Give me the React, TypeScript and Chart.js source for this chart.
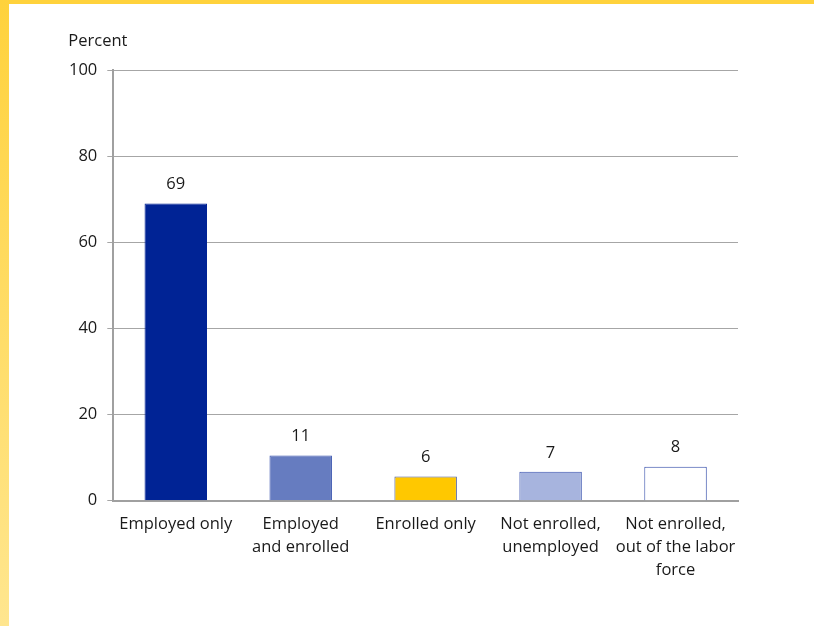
import React, { useEffect, useRef } from "react";
import { Chart, registerables } from "chart.js";

Chart.register(...registerables);

const categories: string[][] = [
  ["Employed only"],
  ["Employed", "and enrolled"],
  ["Enrolled only"],
  ["Not enrolled,", "unemployed"],
  ["Not enrolled,", "out of the labor", "force"],
];
const values: number[] = [69, 10.5, 5.6, 6.7, 7.9];
const valueLabels: string[] = ["69", "11", "6", "7", "8"];
const fillColors: string[] = ["#002395", "#667cc0", "#ffc800", "#a7b4de", "#ffffff"];
const borderColors: string[] = ["#002395", "#3a53ae", "#4a5a9a", "#3a53ae", "#2e48a8"];
const yTicks: number[] = [0, 20, 40, 60, 80, 100];
const yTitle = "Percent";

const FONT = "'Open Sans', 'DejaVu Sans', sans-serif";
const TEXT = "#1a1a1a";
const FS = 16.5;

const valueLabelPlugin = {
  id: "valueLabels",
  afterDatasetsDraw(chart: any) {
    const ctx = chart.ctx;
    const meta = chart.getDatasetMeta(0);
    ctx.save();
    ctx.font = `${FS}px ${FONT}`;
    ctx.fillStyle = TEXT;
    ctx.textAlign = "center";
    ctx.textBaseline = "middle";
    meta.data.forEach((bar: any, i: number) => {
      ctx.fillText(valueLabels[i], bar.x, bar.y - 19);
    });
    ctx.textAlign = "left";
    ctx.fillText(yTitle, chart.chartArea.left - 45, chart.chartArea.top - 29);
    ctx.restore();
  },
};

export default function App() {
  const ref = useRef<HTMLCanvasElement>(null);
  useEffect(() => {
    document.body.style.margin = "0";
    const chart = new Chart(ref.current!, {
      type: "bar",
      data: {
        labels: categories,
        datasets: [
          {
            data: values,
            backgroundColor: fillColors,
            borderColor: borderColors,
            borderWidth: 1,
            borderSkipped: "bottom",
            categoryPercentage: 1,
            barPercentage: 0.5,
          },
        ],
      },
      options: {
        responsive: false,
        animation: false,
        layout: { padding: { left: 59, right: 76, top: 70, bottom: 32 } },
        plugins: { legend: { display: false }, tooltip: { enabled: false } },
        scales: {
          x: {
            grid: { display: false, drawTicks: false },
            border: { display: true, color: "#a0a0a0", width: 2 },
            ticks: {
              color: TEXT,
              font: { family: FONT, size: FS, lineHeight: 1.4 },
              padding: 12,
              maxRotation: 0,
              autoSkip: false,
            },
          },
          y: {
            min: 0,
            max: 100,
            afterBuildTicks: (scale: any) => {
              scale.ticks = yTicks.map((v) => ({ value: v }));
            },
            grid: { color: "#a6a6a6", lineWidth: 1, tickLength: 6 },
            border: { display: true, color: "#a0a0a0", width: 2 },
            ticks: {
              color: TEXT,
              font: { family: FONT, size: FS },
              padding: 10,
            },
          },
        },
      },
      plugins: [valueLabelPlugin],
    });
    return () => chart.destroy();
  }, []);
  return (
    <div style={{ position: "relative", width: 814, height: 626, background: "#fff", overflow: "hidden" }}>
      <canvas ref={ref} width={814} height={626} style={{ position: "absolute", left: 0, top: 0 }} />
      <div style={{ position: "absolute", left: 0, top: 0, width: 814, height: 4, background: "#ffd23c" }} />
      <div
        style={{
          position: "absolute",
          left: 0,
          top: 0,
          width: 9,
          height: 626,
          background: "linear-gradient(to bottom, #ffd23c, #ffe68f)",
        }}
      />
    </div>
  );
}
